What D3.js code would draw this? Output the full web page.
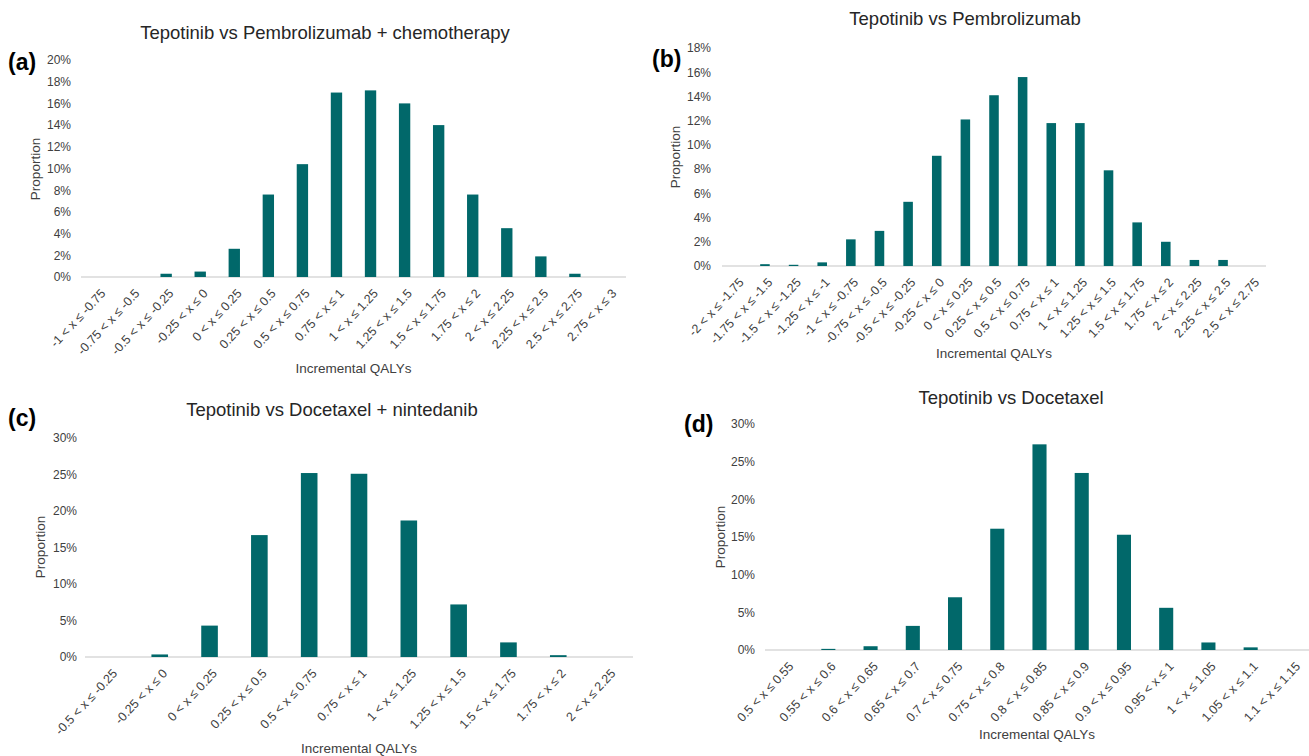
<!DOCTYPE html>
<html><head><meta charset="utf-8">
<script src="https://cdn.jsdelivr.net/npm/d3@7"></script>
<style>body{margin:0;background:#fff} text{font-family:"Liberation Sans",Arial,sans-serif}</style>
</head><body><svg id="c" width="1309" height="756"></svg>
<script>
// ---- data ----
const catsA = ["-1 < x ≤ -0.75","-0.75 < x ≤ -0.5","-0.5 < x ≤ -0.25","-0.25 < x ≤ 0","0 < x ≤ 0.25","0.25 < x ≤ 0.5","0.5 < x ≤ 0.75","0.75 < x ≤ 1","1 < x ≤ 1.25","1.25 < x ≤ 1.5","1.5 < x ≤ 1.75","1.75 < x ≤ 2","2 < x ≤ 2.25","2.25 < x ≤ 2.5","2.5 < x ≤ 2.75","2.75 < x ≤ 3"];
const valsA = [0,0,0.3,0.5,2.6,7.6,10.4,17.0,17.2,16.0,14.0,7.6,4.5,1.9,0.3,0];
const yTicksA = [0,2,4,6,8,10,12,14,16,18,20];

const catsB = ["-2 < x ≤ -1.75","-1.75 < x ≤ -1.5","-1.5 < x ≤ -1.25","-1.25 < x ≤ -1","-1 < x ≤ -0.75","-0.75 < x ≤ -0.5","-0.5 < x ≤ -0.25","-0.25 < x ≤ 0","0 < x ≤ 0.25","0.25 < x ≤ 0.5","0.5 < x ≤ 0.75","0.75 < x ≤ 1","1 < x ≤ 1.25","1.25 < x ≤ 1.5","1.5 < x ≤ 1.75","1.75 < x ≤ 2","2 < x ≤ 2.25","2.25 < x ≤ 2.5","2.5 < x ≤ 2.75"];
const valsB = [0,0.15,0.1,0.3,2.2,2.9,5.3,9.1,12.1,14.1,15.6,11.8,11.8,7.9,3.6,2.0,0.5,0.5,0];
const yTicksB = [0,2,4,6,8,10,12,14,16,18];

const catsC = ["-0.5 < x ≤ -0.25","-0.25 < x ≤ 0","0 < x ≤ 0.25","0.25 < x ≤ 0.5","0.5 < x ≤ 0.75","0.75 < x ≤ 1","1 < x ≤ 1.25","1.25 < x ≤ 1.5","1.5 < x ≤ 1.75","1.75 < x ≤ 2","2 < x ≤ 2.25"];
const valsC = [0,0.35,4.3,16.7,25.2,25.1,18.7,7.2,2.0,0.25,0];
const yTicksC = [0,5,10,15,20,25,30];

const catsD = ["0.5 < x ≤ 0.55","0.55 < x ≤ 0.6","0.6 < x ≤ 0.65","0.65 < x ≤ 0.7","0.7 < x ≤ 0.75","0.75 < x ≤ 0.8","0.8 < x ≤ 0.85","0.85 < x ≤ 0.9","0.9 < x ≤ 0.95","0.95 < x ≤ 1","1 < x ≤ 1.05","1.05 < x ≤ 1.1","1.1 < x ≤ 1.15"];
const valsD = [0,0.15,0.5,3.2,7.0,16.1,27.3,23.5,15.3,5.6,1.0,0.35,0];
const yTicksD = [0,5,10,15,20,25,30];

const tags = ["(a)","(b)","(c)","(d)"];
const titles = ["Tepotinib vs Pembrolizumab + chemotherapy","Tepotinib vs Pembrolizumab","Tepotinib vs Docetaxel + nintedanib","Tepotinib vs Docetaxel"];
const yTitle = "Proportion";
const xTitle = "Incremental QALYs";

// ---- layout ----
const layout = [
  {cats:catsA, vals:valsA, ticks:yTicksA, x0:81, x1:626, y0:277, y1:60, tagX:8, tagY:62, titleX:325, titleY:33, ylabX:35, ylabY:169, xtY:368, tickR:71},
  {cats:catsB, vals:valsB, ticks:yTicksB, x0:722, x1:1266, y0:266, y1:48, tagX:652, tagY:59, titleX:965, titleY:19, ylabX:675, ylabY:157, xtY:353, tickR:711},
  {cats:catsC, vals:valsC, ticks:yTicksC, x0:85, x1:633, y0:657, y1:438, tagX:8, tagY:418, titleX:332, titleY:410, ylabX:40, ylabY:547, xtY:748, tickR:77},
  {cats:catsD, vals:valsD, ticks:yTicksD, x0:765, x1:1314, y0:650, y1:424, tagX:684, tagY:424, titleX:1011, titleY:398, ylabX:720, ylabY:537, xtY:734, tickR:755}
];

const svg = d3.select("#c");
svg.append("rect").attr("width",1309).attr("height",756).attr("fill","#fff");
const barColor = "#01686a";
const FONT = "Liberation Sans, Arial, sans-serif";

layout.forEach((p,i)=>{
  const g = svg.append("g");
  const x = d3.scaleBand().domain(p.cats).range([p.x0,p.x1]).paddingInner(2/3).paddingOuter(1/3);
  const y = d3.scaleLinear().domain([0, d3.max(p.ticks)]).range([p.y0,p.y1]);

  // y axis labels
  const ya = g.append("g").attr("transform",`translate(${p.x0},0)`)
    .call(d3.axisLeft(y).tickValues(p.ticks).tickSize(0).tickPadding(p.x0-p.tickR).tickFormat(d=>d+"%"));
  ya.select(".domain").remove();
  ya.attr("font-size",null).attr("font-family",null);
  ya.selectAll("text").style("font-size","12px").attr("fill","#404040").style("font-family",FONT);

  // baseline
  g.append("line").attr("x1",p.x0).attr("x2",Math.min(p.x1,1309)).attr("y1",p.y0).attr("y2",p.y0)
    .attr("stroke","#d9d9d9").attr("stroke-width",1.3);

  // bars
  g.selectAll("rect.bar").data(p.cats.map((c,k)=>({c, v:p.vals[k]}))).join("rect")
    .attr("class","bar")
    .attr("x",d=>x(d.c)).attr("width",x.bandwidth())
    .attr("y",d=>y(d.v)).attr("height",d=>p.y0-y(d.v))
    .attr("fill",barColor);

  // x axis labels
  const xa = g.append("g").attr("transform",`translate(0,${p.y0})`)
    .call(d3.axisBottom(x).tickSize(0));
  xa.select(".domain").remove();
  xa.attr("font-size",null).attr("font-family",null);
  xa.selectAll("text").style("font-size","12.5px").attr("fill","#404040").style("font-family",FONT)
    .attr("text-anchor","end").attr("x",0).attr("y",0).attr("dy","0.35em")
    .attr("transform","translate(5,14) rotate(-47)");

  // titles
  g.append("text").attr("x",p.titleX).attr("y",p.titleY).attr("dy","0.35em").attr("text-anchor","middle")
    .style("font-size","18.5px").attr("fill","#262626").text(titles[i]);
  g.append("text").attr("x",p.tagX).attr("y",p.tagY).attr("dy","0.35em").style("font-size","23px")
    .attr("font-weight","bold").attr("fill","#000").text(tags[i]);
  g.append("text").attr("transform",`translate(${p.ylabX},${p.ylabY}) rotate(-90)`).attr("dy","0.35em")
    .attr("text-anchor","middle").style("font-size","13.5px").attr("fill","#404040").text(yTitle);
  g.append("text").attr("x",(p.x0+Math.min(p.x1,1309))/2).attr("y",p.xtY).attr("dy","0.35em")
    .attr("text-anchor","middle").style("font-size","13.5px").attr("fill","#404040").text(xTitle);
});
</script></body></html>
